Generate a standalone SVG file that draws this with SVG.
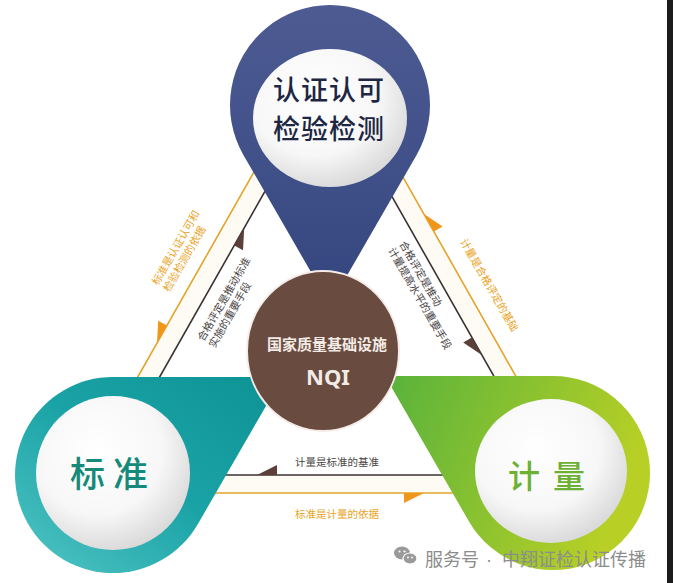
<svg xmlns="http://www.w3.org/2000/svg" width="673" height="583" viewBox="0 0 673 583">
<defs>
  <linearGradient id="gBlue" x1="0" y1="0" x2="0" y2="1">
    <stop offset="0" stop-color="#4e5b93"/>
    <stop offset="1" stop-color="#34467f"/>
  </linearGradient>
  <linearGradient id="gTeal" x1="0" y1="1" x2="1" y2="0">
    <stop offset="0" stop-color="#52c5c5"/>
    <stop offset="0.5" stop-color="#1aa3a6"/>
    <stop offset="1" stop-color="#0e9294"/>
  </linearGradient>
  <linearGradient id="gGreen" x1="0" y1="0" x2="1" y2="0.3">
    <stop offset="0" stop-color="#58b23c"/>
    <stop offset="1" stop-color="#b8d025"/>
  </linearGradient>
  <radialGradient id="gWhite" cx="0.4" cy="0.35" r="0.7">
    <stop offset="0" stop-color="#ffffff"/>
    <stop offset="0.6" stop-color="#f7f7f7"/>
    <stop offset="1" stop-color="#d6d6d6"/>
  </radialGradient>
  <style>
    .cjk{font-family:"Noto Sans CJK SC","Noto Sans",sans-serif}
    .lo{fill:#e9a323;font-size:10.5px}
    .ld{fill:#4a4545;font-size:10.5px}
    .lineO{fill:none;stroke:#e2a42c;stroke-width:1.6}
    .lineD{fill:none;stroke:#3b3333;stroke-width:1.6}
    .flagO{fill:#f0961a}
    .flagD{fill:#5a4038}
    .inner{fill:url(#gWhite)}
  </style>
</defs>
<rect width="673" height="583" fill="#ffffff"/>

<g id="connectors">
  <path d="M327 43 L72 493 L582 493 Z M327 82 L104 475 L550 475 Z" fill="#fefbf4" fill-rule="evenodd"/>
  <polygon class="lineO" points="327,43 72,493 582,493"/>
  <polygon class="lineD" points="327,82 104,475 550,475"/>
  <polygon class="flagO" points="157,343 166.9,325.6 158.2,320.7"/>
  <polygon class="flagD" points="244.2,228 234.3,245.4 243,250.3"/>
  <polygon class="flagD" points="481.8,355 471.9,337.6 463.2,342.5"/>
  <polygon class="flagO" points="424,214 433.9,231.4 442.6,226.5"/>
  <polygon class="flagD" points="257,475 277,475 277,465"/>
  <polygon class="flagO" points="424,493 404,493 404,503"/>

  <g class="cjk" transform="translate(158,286) rotate(-60)">
    <text class="lo" x="0" y="0">标准是认证认可和</text>
    <text class="lo" x="0" y="13">检验检测的依据</text>
  </g>
  <g class="cjk" transform="translate(203.5,342) rotate(-60)">
    <text class="ld" x="0" y="0">合格评定是推动标准</text>
    <text class="ld" x="0" y="13">实施的重要手段</text>
  </g>
  <g class="cjk" transform="translate(399,243.7) rotate(60)">
    <text class="ld" x="0" y="0">合格评定是推动</text>
    <text class="ld" x="0" y="13">计量提高水平的重要手段</text>
  </g>
  <g class="cjk" transform="translate(459.8,241.5) rotate(60)">
    <text class="lo" x="0" y="0">计量是合格评定的基础</text>
  </g>
  <text class="cjk ld" x="337" y="466" text-anchor="middle" font-size="10">计量是标准的基准</text>
  <text class="cjk lo" x="337" y="518" text-anchor="middle" font-size="10">标准是计量的依据</text>
</g>

<g id="node-top">
  <path d="M330 305 L243.4 155 A100 100 0 1 1 416.6 155 Z" fill="url(#gBlue)"/>
  <ellipse class="inner" cx="330" cy="118" rx="77" ry="69"/>
  <text class="cjk" x="329" y="100" text-anchor="middle" font-size="27" font-weight="500" fill="#1d2642" letter-spacing="1">认证认可</text>
  <text class="cjk" x="329" y="139" text-anchor="middle" font-size="27" font-weight="500" fill="#1d2642" letter-spacing="1">检验检测</text>
</g>

<g id="node-left">
  <path d="M282.7 377 L197.9 524 A98 98 0 1 1 113 377 Z" fill="url(#gTeal)"/>
  <circle class="inner" cx="113" cy="473" r="77"/>
  <text class="cjk" x="70" y="487" font-size="35" font-weight="500" fill="#168a7a" letter-spacing="8">标准</text>
</g>

<g id="node-right">
  <path d="M385 376 L553 376 A97 97 0 1 1 469 521.5 Z" fill="url(#gGreen)"/>
  <ellipse class="inner" cx="551" cy="471" rx="76" ry="72"/>
  <text class="cjk" x="508" y="488" font-size="32" font-weight="500" fill="#6cb134" letter-spacing="13">计量</text>
</g>

<g id="node-center">
  <ellipse cx="323" cy="351" rx="76" ry="80" fill="#6a4b3f" stroke="#f4ece8" stroke-width="2"/>
  <text class="cjk" x="327" y="350" text-anchor="middle" font-size="15" font-weight="bold" fill="#f3ebe6">国家质量基础设施</text>
  <text x="328" y="385" text-anchor="middle" font-family="'Noto Sans','Liberation Sans',sans-serif" font-size="22" font-weight="bold" fill="#f3ebe6">NQI</text>
</g>

<g id="watermark">
  <ellipse cx="402" cy="553" rx="8" ry="6.5" fill="#9a9a9a"/>
  <ellipse cx="410" cy="558.5" rx="7" ry="5.5" fill="#9a9a9a" stroke="#ffffff" stroke-width="1.2"/>
  <circle cx="399.5" cy="551.5" r="1.1" fill="#fff"/>
  <circle cx="404.5" cy="551.5" r="1.1" fill="#fff"/>
  <circle cx="408" cy="557.5" r="0.9" fill="#fff"/>
  <circle cx="412" cy="557.5" r="0.9" fill="#fff"/>
  <text class="cjk" y="566" font-size="18" fill="#8c8c8c"><tspan x="425">服务号</tspan><tspan x="486" font-family="'Liberation Sans',sans-serif">·</tspan><tspan x="502">中翔证检认证传播</tspan></text>
</g>

<rect x="667" y="0" width="6" height="583" fill="#1c1c1c"/>
</svg>
